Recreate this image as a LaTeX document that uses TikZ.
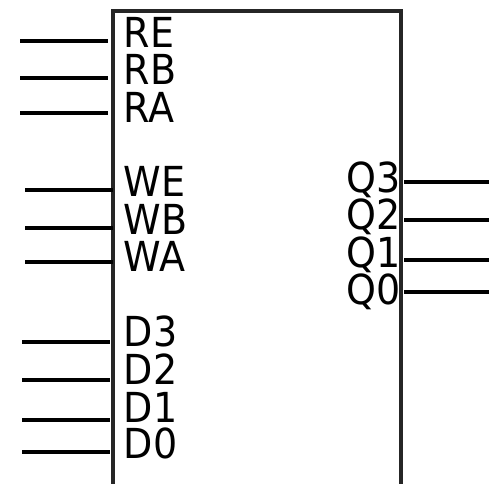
\documentclass[tikz,border=0pt]{standalone}
\usepackage{fontspec}
\setmainfont[FakeStretch=0.92]{DejaVu Sans}
\usetikzlibrary{positioning}

\begin{document}
\begin{tikzpicture}[
    x=0.75pt, y=-0.75pt,
    block/.style={draw=black!85, line width=2.45pt},
    wire/.style={draw, black, line width=2.6pt},
    inlabel/.style={anchor=base west, inner sep=0pt, font=\fontsize{31}{31}\selectfont},
    outlabel/.style={anchor=base east, inner sep=0pt, font=\fontsize{31}{31}\selectfont},
  ]
    \useasboundingbox (0,0) rectangle (489,484);

    % block, open at the bottom
    \coordinate (bl) at (113,484);
    \coordinate (tl) at (113,11);
    \coordinate (tr) at (401,11);
    \coordinate (br) at (401,484);
    \draw[block] (bl) -- (tl) -- (tr) -- (br);

    % read side
    \node[inlabel] (re) at (123.5,48) {RE};
    \node[inlabel] (rb) at (123.5,85) {RB};
    \node[inlabel] (ra) at (123.5,123) {RA};
    \coordinate (rea) at (20,41);  \coordinate (reb) at (108,41);
    \coordinate (rba) at (20,78);  \coordinate (rbb) at (108,78);
    \coordinate (raa) at (20,113); \coordinate (rab) at (108,113);
    \draw[wire] (rea) -- (reb);
    \draw[wire] (rba) -- (rbb);
    \draw[wire] (raa) -- (rab);

    % write side
    \node[inlabel] (we) at (123.5,197) {WE};
    \node[inlabel] (wb) at (123.5,235) {WB};
    \node[inlabel] (wa) at (123.5,272) {WA};
    \coordinate (wea) at (25,190); \coordinate (web) at (113,190);
    \coordinate (wba) at (25,228); \coordinate (wbb) at (113,228);
    \coordinate (waa) at (25,262); \coordinate (wab) at (113,262);
    \draw[wire] (wea) -- (web);
    \draw[wire] (wba) -- (wbb);
    \draw[wire] (waa) -- (wab);

    % data in
    \node[inlabel] (d3) at (123.5,347) {D3};
    \node[inlabel] (d2) at (123.5,385) {D2};
    \node[inlabel] (d1) at (123.5,422) {D1};
    \node[inlabel] (d0) at (123.5,459) {D0};
    \coordinate (d3a) at (22,342); \coordinate (d3b) at (110,342);
    \coordinate (d2a) at (22,380); \coordinate (d2b) at (110,380);
    \coordinate (d1a) at (22,420); \coordinate (d1b) at (110,420);
    \coordinate (d0a) at (22,452); \coordinate (d0b) at (110,452);
    \draw[wire] (d3a) -- (d3b);
    \draw[wire] (d2a) -- (d2b);
    \draw[wire] (d1a) -- (d1b);
    \draw[wire] (d0a) -- (d0b);

    % data out
    \node[outlabel] (q3) at (401,193) {Q3};
    \node[outlabel] (q2) at (401,230) {Q2};
    \node[outlabel] (q1) at (401,268) {Q1};
    \node[outlabel] (q0) at (401,305) {Q0};
    \coordinate (q3a) at (404,182); \coordinate (q3b) at (489,182);
    \coordinate (q2a) at (404,220); \coordinate (q2b) at (489,220);
    \coordinate (q1a) at (404,260); \coordinate (q1b) at (489,260);
    \coordinate (q0a) at (404,292); \coordinate (q0b) at (489,292);
    \draw[wire] (q3a) -- (q3b);
    \draw[wire] (q2a) -- (q2b);
    \draw[wire] (q1a) -- (q1b);
    \draw[wire] (q0a) -- (q0b);
\end{tikzpicture}
\end{document}
